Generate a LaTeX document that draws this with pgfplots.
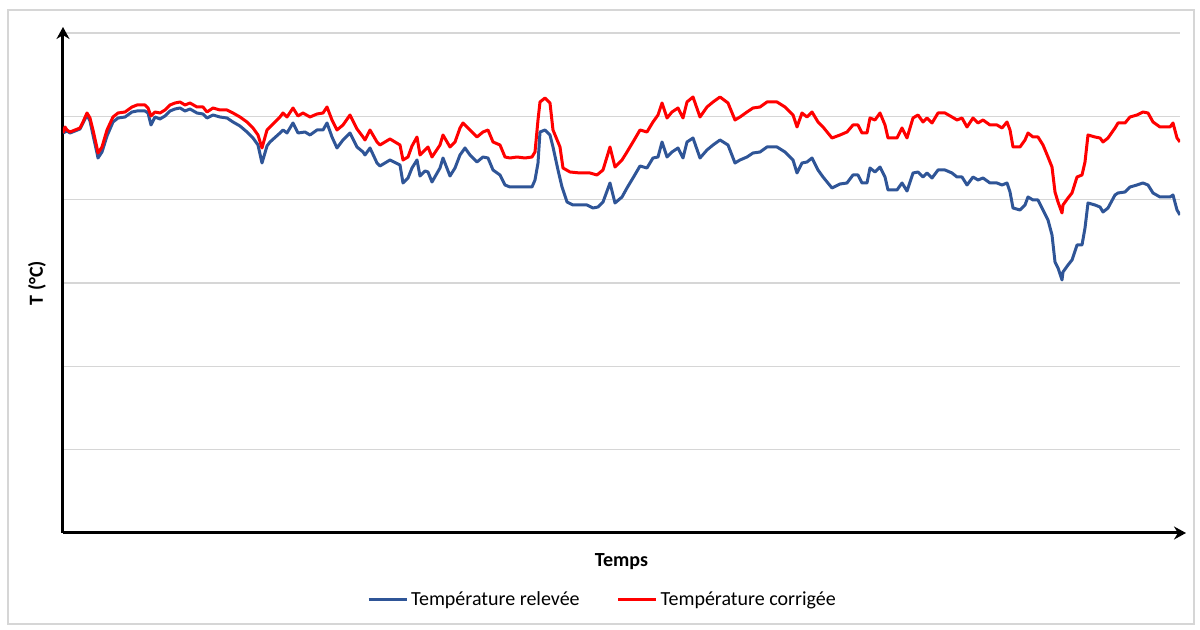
\documentclass[border=0pt]{standalone}
\usepackage{pgfplots}
\pgfplotsset{compat=1.18}
\usepackage{fontspec}
\setmainfont{Carlito}
\usetikzlibrary{arrows.meta}
\definecolor{releve}{RGB}{47,85,151}
\definecolor{corrige}{RGB}{255,0,0}
\definecolor{grille}{RGB}{214,214,214}

% x: position along the time axis, y: height above the axis (both in pixels of the original)
\begin{document}
\begin{tikzpicture}[x=0.5pt,y=0.5pt]
\begin{axis}[
    at={(0,0)}, anchor=south west,
    scale only axis,
    width=558.5pt, height=250pt,
    xmin=63, xmax=1180,
    ymin=0, ymax=500,
    axis lines=left,
    axis line style={line width=1.5pt, shorten >=-3pt, -{Stealth[length=6pt,width=6.5pt]}},
    xtick=\empty,
    ytick={0,83.33,166.67,250,333.33,416.67,500},
    yticklabels={},
    major tick length=0pt,
    ymajorgrids,
    grid style={grille, line width=0.8pt},
    xlabel={\bfseries Temps},
    ylabel={\bfseries T (°C)},
    label style={font=\fontsize{10}{12}\selectfont},
    xlabel style={at={(axis description cs:0.5,-0.058)}, anchor=center},
    ylabel style={at={(axis description cs:-0.0233,0.5)}, anchor=center},
    legend columns=2,
    legend style={
        at={(axis description cs:0.4834,-0.134)}, anchor=center,
        draw=none, fill=none,
        font=\fontsize{10}{12}\selectfont,
        /tikz/every even column/.append style={column sep=17pt},
        nodes={inner xsep=1.5pt, inner ysep=1pt},
    },
    legend image code/.code={\draw[#1] (0pt,0pt) -- (19pt,0pt);},
    every axis plot/.append style={line width=1.5pt, line join=round},
]
\addplot[releve, mark=none] table {
x y
63 400
67 402
70 400
75 402
80 404
83 410
87 418
90 412
93 398
97 380
98 375
102 381
107 397
113 411
118 415
125 416
132 421
137 422
145 422
148 420
151 408
155 416
160 414
165 417
170 422
175 424
180 425
185 422
190 424
197 420
203 419
207 415
213 418
220 416
227 415
233 411
240 407
247 401
253 395
258 388
262 370
267 387
270 391
280 400
283 403
287 400
293 410
298 400
305 401
310 398
317 403
323 403
327 410
332 396
337 385
343 393
350 400
357 386
363 381
365 378
370 385
377 370
380 367
390 373
400 368
403 350
408 355
412 365
417 373
420 357
425 362
428 361
432 351
440 365
443 375
450 357
455 365
460 378
465 385
470 378
477 371
483 376
488 375
493 363
500 358
505 348
510 346
517 346
525 346
532 346
535 353
538 370
540 401
545 403
550 398
553 386
558 363
562 346
567 331
573 328
587 328
593 325
598 326
603 331
610 350
615 330
622 336
627 345
633 355
640 367
647 365
653 375
658 376
662 391
667 376
672 381
678 385
683 375
687 391
693 395
700 375
707 383
713 388
720 393
728 388
735 370
740 373
747 376
753 380
760 381
767 386
777 386
785 381
793 373
797 360
802 370
807 371
812 375
818 363
823 356
832 345
840 349
847 350
853 358
858 358
862 350
867 350
870 365
875 361
880 366
885 356
888 343
897 343
902 350
907 342
913 360
918 361
923 356
927 360
932 355
938 363
945 363
952 360
957 356
962 356
967 348
973 356
978 353
983 355
990 350
997 350
1002 348
1007 350
1010 341
1013 325
1020 323
1025 328
1028 336
1033 333
1038 333
1043 323
1048 313
1052 298
1055 271
1058 265
1062 253
1063 261
1068 268
1072 273
1077 288
1082 288
1085 305
1088 330
1095 328
1100 326
1103 321
1108 325
1115 338
1118 340
1125 341
1130 346
1137 348
1143 350
1148 348
1153 340
1160 336
1170 336
1173 338
1177 323
1180 318
};
\addlegendentry{Température relevée}
\addplot[corrige, mark=none] table {
x y
63 400
65 406
67 403
70 401
75 403
80 405
83 411
87 420
90 415
93 403
97 385
98 380
102 386
107 403
113 416
118 420
125 421
132 426
137 428
145 428
148 425
151 417
155 421
160 420
165 423
170 428
175 430
180 431
185 428
190 430
197 426
203 426
207 421
213 425
220 423
227 423
233 420
240 416
247 411
253 405
258 398
262 385
267 403
270 406
277 413
280 416
283 420
287 416
293 425
298 417
303 420
310 416
317 419
323 420
327 426
332 413
337 403
343 408
350 418
357 404
363 396
365 393
370 403
377 391
380 388
390 394
400 388
403 373
408 376
412 387
417 396
420 378
425 383
428 386
432 376
440 388
443 398
450 386
455 391
460 405
463 410
470 403
477 396
483 401
488 403
493 391
500 388
505 376
510 375
517 376
525 375
532 376
535 381
538 413
540 431
545 435
550 430
553 403
560 386
563 365
570 361
580 360
590 360
597 358
603 363
610 386
615 366
622 373
627 381
633 391
640 403
647 401
653 411
658 418
662 430
667 415
672 421
678 425
683 415
687 431
693 436
700 416
707 426
713 431
720 436
728 430
735 413
740 416
747 421
753 425
760 426
767 431
777 431
785 426
793 418
797 406
802 420
807 416
812 421
818 411
823 406
832 395
840 398
847 401
853 408
858 408
862 400
867 400
870 415
875 413
880 420
885 408
888 395
897 395
902 405
907 395
913 415
918 418
923 411
927 415
932 410
938 420
945 420
952 416
957 413
962 415
967 406
973 415
978 410
983 413
990 408
997 408
1002 405
1007 411
1010 403
1013 386
1020 386
1025 393
1028 400
1033 396
1038 396
1043 388
1048 376
1052 366
1055 341
1058 331
1062 320
1063 328
1068 335
1072 340
1077 356
1082 358
1085 371
1088 398
1095 396
1100 395
1103 391
1108 395
1115 405
1118 410
1125 410
1130 416
1137 418
1143 421
1148 420
1153 411
1160 406
1170 406
1173 410
1177 395
1180 391
};
\addlegendentry{Température corrigée}
\end{axis}
% outer frame and page size (original pixels, origin at the axis corner)
\draw[grille, line width=0.8pt] (-55,-91) rectangle (1131,523);
\path[use as bounding box] (-63,-97) rectangle (1137,533);
\end{tikzpicture}
\end{document}
